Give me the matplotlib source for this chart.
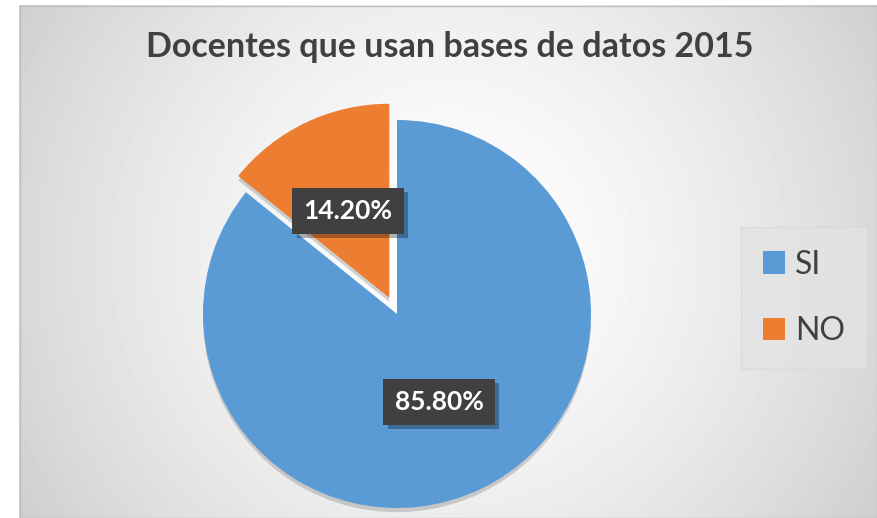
import numpy as np
import matplotlib
matplotlib.use("Agg")
import matplotlib.pyplot as plt
import matplotlib.patheffects as pe
from matplotlib.patches import Rectangle

# data
labels = ["SI", "NO"]
values = [85.80, 14.20]
colors = ["#5B9BD5", "#ED7D31"]
title = "Docentes que usan bases de datos 2015"

W, H = 877, 518
fig = plt.figure(figsize=(W / 100, H / 100), dpi=100)
fig.patch.set_facecolor("white")

# radial gradient background of chart area
bg = fig.add_axes([19 / W, 0, 1 - 19 / W, 1 - 5 / H])
bg.set_axis_off()
yy, xx = np.mgrid[0:513, 0:858]
d = np.sqrt((xx - 429) ** 2 + (yy - 250) ** 2) / 500.0
shade = 1 - 0.19 * np.clip(d, 0, 1.2) ** 1.5
bg.imshow(shade, cmap="gray", vmin=0, vmax=1, aspect="auto", interpolation="bilinear")
bg.add_patch(Rectangle((0, 0), 857, 512, fill=False, edgecolor="#bfbfbf", lw=1))

ax = fig.add_axes([0, 0, 1, 1])

shadow = [pe.SimplePatchShadow(offset=(0, -3), shadow_rgbFace="#808080", alpha=0.35), pe.Normal()]
# explode is in data units (pixels here)
wedges, _ = ax.pie(values, colors=colors, startangle=90, counterclock=False,
                   center=(397, 204), radius=194, explode=[0, 18],
                   wedgeprops=dict(linewidth=0, path_effects=shadow), frame=True)
ax.set_xlim(0, W)
ax.set_ylim(0, H)
ax.set_aspect("auto")
ax.set_axis_off()

# data labels
label_pos = [(439, H - 402), (348, H - 211)]
box_shadow = [pe.withSimplePatchShadow(offset=(3, -3), shadow_rgbFace="black", alpha=0.3)]
for v, (x, y) in zip(values, label_pos):
    t = ax.text(x, y, "%.2f%%" % v, ha="center", va="center", color="white",
                fontsize=19, fontweight="bold", family="Lato",
                bbox=dict(boxstyle="square,pad=0.42", facecolor="#404040", edgecolor="none"))
    t.get_bbox_patch().set_path_effects(box_shadow)

fig.text(450 / W, 1 - 47 / H, title, ha="center", va="center", fontsize=24.5,
         fontweight="bold", color="#404040", family="Lato")

handles = [Rectangle((0, 0), 1, 1, facecolor=c, edgecolor="none") for c in colors]
leg = ax.legend(handles, labels, loc="center", bbox_to_anchor=(804 / W, 1 - 298 / H),
                bbox_transform=fig.transFigure, prop=dict(family="Lato", size=23),
                handlelength=0.7, handleheight=0.7, handletextpad=0.3, labelspacing=1.15,
                borderpad=0.7, borderaxespad=0, fancybox=False, frameon=True)
leg.get_frame().set_facecolor("#e3e3e3")
leg.get_frame().set_edgecolor("#d8d8d8")
for t in leg.get_texts():
    t.set_color("#404040")

fig.savefig("out.png", dpi=100)
